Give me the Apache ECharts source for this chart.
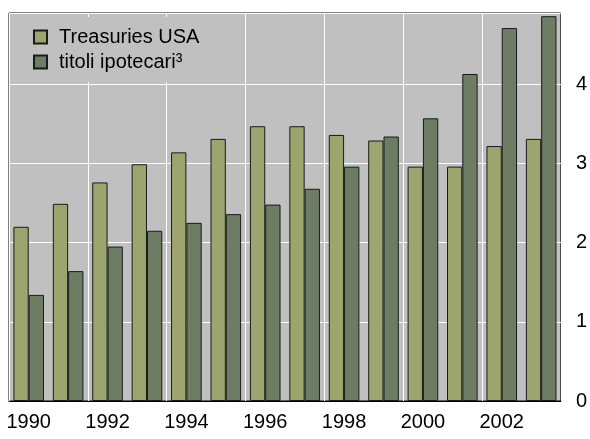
<!DOCTYPE html>
<html><head><meta charset="utf-8">
<script src="https://cdn.jsdelivr.net/npm/echarts@6/dist/echarts.min.js"></script>
<style>html,body{margin:0;padding:0;background:#fff}#c{width:590px;height:439px}</style>
</head><body><div id="c"></div>
<script>
var years = ['1990','1991','1992','1993','1994','1995','1996','1997','1998','1999','2000','2001','2002','2003'];
var treasuries = [2.2, 2.49, 2.76, 2.99, 3.14, 3.31, 3.47, 3.47, 3.36, 3.29, 2.96, 2.96, 3.22, 3.31];
var mortgage = [1.34, 1.64, 1.95, 2.15, 2.25, 2.36, 2.48, 2.68, 2.96, 3.34, 3.57, 4.13, 4.71, 4.86];
var yTicks = [0, 1, 2, 3, 4];

var chart = echarts.init(document.getElementById('c'));
var font = 'Liberation Sans, Arial, sans-serif';
chart.setOption({
  animation: false,
  backgroundColor: '#fff',
  grid: {left: 9, top: 13, right: 28, bottom: 38, show: true, backgroundColor: '#C0C0C0', borderColor: '#000', borderWidth: 1},
  legend: {
    orient: 'vertical', left: 10, top: 17,
    padding: [10, 45, 10, 23],
    backgroundColor: '#C0C0C0',
    icon: 'rect',
    itemWidth: 13, itemHeight: 13, itemGap: 5,
    textStyle: {fontFamily: font, fontSize: 20, color: '#000', padding: [0, 0, 0, 7]},
    data: ['Treasuries USA', 'titoli ipotecari³']
  },
  xAxis: {
    type: 'category', data: years,
    axisLine: {show: true, lineStyle: {color: '#000', width: 1}},
    axisTick: {show: false},
    axisLabel: {interval: 1, margin: 11, fontFamily: font, fontSize: 20, color: '#000'},
    splitLine: {show: true, interval: 1, lineStyle: {color: '#fff', width: 1}}
  },
  yAxis: {
    type: 'value', position: 'right', min: 0, max: 4.9, interval: 1,
    axisLine: {show: false}, axisTick: {show: false},
    axisLabel: {margin: 15, fontFamily: font, fontSize: 20, color: '#000',
      formatter: function (v) { return yTicks.indexOf(v) >= 0 ? String(v) : ''; }},
    splitLine: {show: true, lineStyle: {color: '#fff', width: 1}}
  },
  series: [
    {name: 'Treasuries USA', type: 'bar', data: treasuries, barWidth: 15.3, barGap: '0%',
     itemStyle: {color: '#9DA56E', borderColor: '#1a1a1a', borderWidth: 1}},
    {name: 'titoli ipotecari³', type: 'bar', data: mortgage, barWidth: 15.3, barGap: '0%',
     itemStyle: {color: '#6D7D64', borderColor: '#1a1a1a', borderWidth: 1}}
  ]
});
</script></body></html>
